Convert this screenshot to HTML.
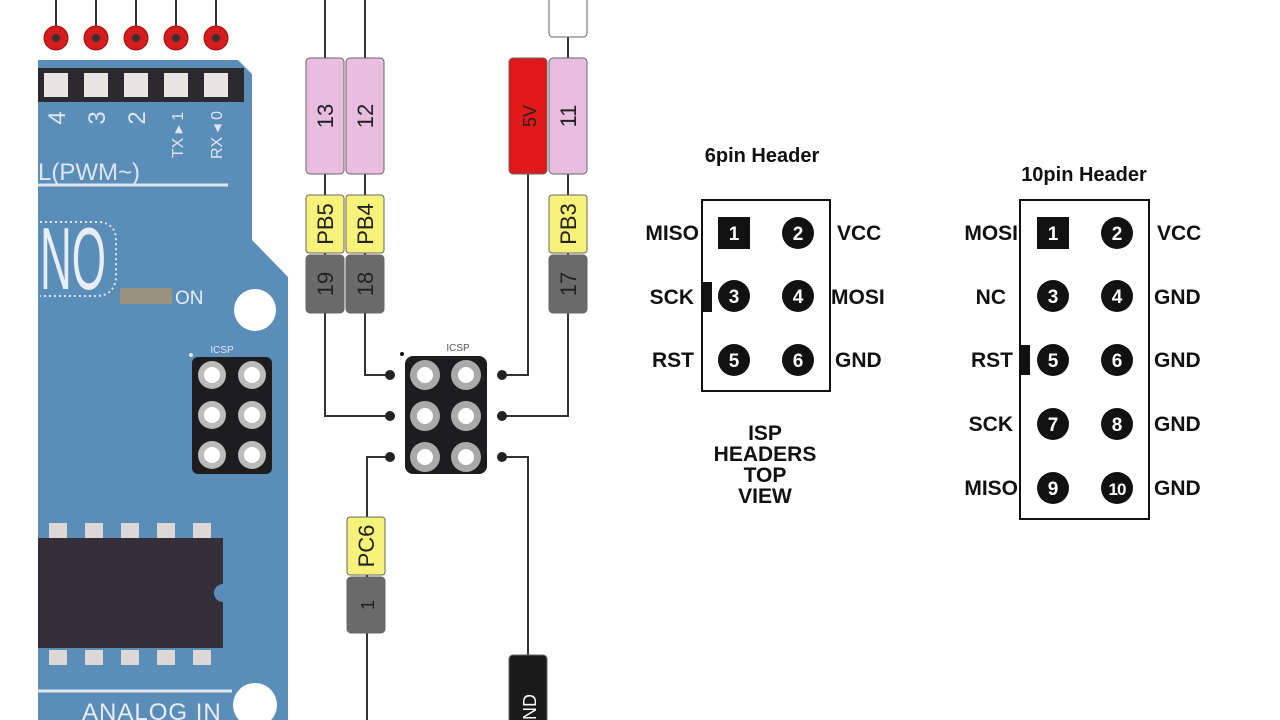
<!DOCTYPE html>
<html><head><meta charset="utf-8"><style>
html,body{margin:0;padding:0;background:#fff;}
svg{display:block;}
text{font-family:"Liberation Sans","DejaVu Sans",sans-serif;}
</style></head><body>
<svg width="1280" height="720" viewBox="0 0 1280 720" xmlns="http://www.w3.org/2000/svg">
<rect width="1280" height="720" fill="#fff"/>
<g stroke="#333" stroke-width="2">
<line x1="56" y1="0" x2="56" y2="38"/><line x1="96" y1="0" x2="96" y2="38"/><line x1="136" y1="0" x2="136" y2="38"/><line x1="176" y1="0" x2="176" y2="38"/><line x1="216" y1="0" x2="216" y2="38"/>
</g>
<g fill="#d41c1c" stroke="#a01010" stroke-width="1">
<circle cx="56" cy="38" r="12"/><circle cx="96" cy="38" r="12"/><circle cx="136" cy="38" r="12"/><circle cx="176" cy="38" r="12"/><circle cx="216" cy="38" r="12"/>
</g>
<g fill="#333"><circle cx="56" cy="38" r="4"/><circle cx="96" cy="38" r="4"/><circle cx="136" cy="38" r="4"/><circle cx="176" cy="38" r="4"/><circle cx="216" cy="38" r="4"/></g>
<path d="M38 60 L238 60 L252 74 L252 240 L288 277 L288 720 L38 720 Z" fill="#5b8db9"/>
<rect x="38" y="68" width="206" height="34" fill="#2a2a2e"/>
<g fill="#e8e4e4"><rect x="44" y="73" width="24" height="24"/><rect x="84" y="73" width="24" height="24"/><rect x="124" y="73" width="24" height="24"/><rect x="164" y="73" width="24" height="24"/><rect x="204" y="73" width="24" height="24"/></g>
<g fill="#dfe6f0" font-size="24">
<text transform="translate(65,118) rotate(-90)" text-anchor="middle">4</text>
<text transform="translate(105,118) rotate(-90)" text-anchor="middle">3</text>
<text transform="translate(145,118) rotate(-90)" text-anchor="middle">2</text>
<text transform="translate(183,135) rotate(-90)" text-anchor="middle" font-size="16">TX ▸ 1</text>
<text transform="translate(222,135) rotate(-90)" text-anchor="middle" font-size="16">RX ◂ 0</text>
<text x="38" y="180" font-size="24">L(PWM~)</text>
</g>
<line x1="38" y1="185" x2="228" y2="185" stroke="#dfe6f0" stroke-width="3"/>
<path d="M40 222 L100 222 Q116 224 116 240 L116 278 Q114 296 96 296 L40 296" fill="none" stroke="#dfe6f0" stroke-width="2" stroke-dasharray="2 3"/>
<text x="40" y="289" font-size="88" fill="#e8eef5" textLength="66" lengthAdjust="spacingAndGlyphs">NO</text>
<rect x="120" y="288" width="52" height="16" fill="#9a917f"/>
<text x="175" y="304" font-size="19" fill="#e8eef5">ON</text>
<circle cx="255" cy="310" r="21" fill="#fff"/>
<text x="222" y="353" font-size="10" fill="#dfe6f0" text-anchor="middle" font-family="Liberation Serif">ICSP</text>
<circle cx="191" cy="355" r="2" fill="#dfe6f0"/>
<rect x="192" y="357" width="80" height="117" rx="6" fill="#1d1d1f"/>
<g fill="#bbb"><circle cx="212" cy="375" r="14"/><circle cx="252" cy="375" r="14"/><circle cx="212" cy="415" r="14"/><circle cx="252" cy="415" r="14"/><circle cx="212" cy="455" r="14"/><circle cx="252" cy="455" r="14"/></g>
<g fill="#fff"><circle cx="212" cy="375" r="8"/><circle cx="252" cy="375" r="8"/><circle cx="212" cy="415" r="8"/><circle cx="252" cy="415" r="8"/><circle cx="212" cy="455" r="8"/><circle cx="252" cy="455" r="8"/></g>
<g fill="#ddd8d6"><rect x="49" y="523" width="18" height="15"/><rect x="85" y="523" width="18" height="15"/><rect x="121" y="523" width="18" height="15"/><rect x="157" y="523" width="18" height="15"/><rect x="193" y="523" width="18" height="15"/>
<rect x="49" y="650" width="18" height="15"/><rect x="85" y="650" width="18" height="15"/><rect x="121" y="650" width="18" height="15"/><rect x="157" y="650" width="18" height="15"/><rect x="193" y="650" width="18" height="15"/></g>
<rect x="38" y="538" width="185" height="110" fill="#332e38"/>
<circle cx="223" cy="593" r="9" fill="#5b8db9"/>
<line x1="38" y1="691" x2="232" y2="691" stroke="#dfe6f0" stroke-width="3"/>
<text x="82" y="720" font-size="24" fill="#e8eef5" letter-spacing="1">ANALOG IN</text>
<circle cx="255" cy="705" r="22" fill="#fff"/>
<g stroke="#333" stroke-width="2" fill="none">
<path d="M325 0 V416 H390"/><path d="M365 0 V375 H390"/>
<path d="M528 170 V375 H502"/><path d="M568 30 V416 H502"/>
<path d="M390 457 H367 V720"/><path d="M502 457 H528 V660"/>
</g>
<g stroke="#666" stroke-width="1">
<rect x="306" y="58" width="38" height="116" rx="4" fill="#e9bde0"/>
<rect x="346" y="58" width="38" height="116" rx="4" fill="#e9bde0"/>
<rect x="509" y="58" width="38" height="116" rx="4" fill="#e11818"/>
<rect x="549" y="58" width="38" height="116" rx="4" fill="#e9bde0"/>
<rect x="549" y="-5" width="38" height="42" rx="4" fill="#fff"/>
<rect x="306" y="195" width="38" height="58" rx="3" fill="#f7f27a"/>
<rect x="346" y="195" width="38" height="58" rx="3" fill="#f7f27a"/>
<rect x="549" y="195" width="38" height="58" rx="3" fill="#f7f27a"/>
<rect x="306" y="255" width="38" height="58" rx="4" fill="#6a6a6a"/>
<rect x="346" y="255" width="38" height="58" rx="4" fill="#6a6a6a"/>
<rect x="549" y="255" width="38" height="58" rx="4" fill="#6a6a6a"/>
<rect x="347" y="517" width="38" height="58" rx="3" fill="#f7f27a"/>
<rect x="347" y="577" width="38" height="56" rx="4" fill="#6a6a6a"/>
<rect x="509" y="655" width="38" height="70" rx="4" fill="#1a1a1a"/>
</g>
<g font-size="22" fill="#222">
<text transform="translate(333,116) rotate(-90)" text-anchor="middle">13</text>
<text transform="translate(373,116) rotate(-90)" text-anchor="middle">12</text>
<text transform="translate(536,116) rotate(-90)" text-anchor="middle" font-size="18">5V</text>
<text transform="translate(576,116) rotate(-90)" text-anchor="middle">11</text>
<text transform="translate(333,224) rotate(-90)" text-anchor="middle">PB5</text>
<text transform="translate(373,224) rotate(-90)" text-anchor="middle">PB4</text>
<text transform="translate(576,224) rotate(-90)" text-anchor="middle">PB3</text>
<text transform="translate(333,284) rotate(-90)" text-anchor="middle">19</text>
<text transform="translate(373,284) rotate(-90)" text-anchor="middle">18</text>
<text transform="translate(576,284) rotate(-90)" text-anchor="middle">17</text>
<text transform="translate(374,546) rotate(-90)" text-anchor="middle">PC6</text>
<text transform="translate(374,605) rotate(-90)" text-anchor="middle" font-size="18">1</text>
<text transform="translate(536,734) rotate(-90)" text-anchor="start" font-size="18" fill="#fff">GND</text>
</g>
<text x="458" y="351" font-size="10" fill="#555" text-anchor="middle" font-family="Liberation Serif">ICSP</text>
<circle cx="402" cy="354" r="2" fill="#111"/>
<rect x="405" y="356" width="82" height="118" rx="8" fill="#1d1d1f"/>
<g fill="#aaa"><circle cx="425" cy="375" r="15"/><circle cx="466" cy="375" r="15"/><circle cx="425" cy="416" r="15"/><circle cx="466" cy="416" r="15"/><circle cx="425" cy="457" r="15"/><circle cx="466" cy="457" r="15"/></g>
<g fill="#fff"><circle cx="425" cy="375" r="8"/><circle cx="466" cy="375" r="8"/><circle cx="425" cy="416" r="8"/><circle cx="466" cy="416" r="8"/><circle cx="425" cy="457" r="8"/><circle cx="466" cy="457" r="8"/></g>
<g fill="#222"><circle cx="390" cy="375" r="5"/><circle cx="390" cy="416" r="5"/><circle cx="390" cy="457" r="5"/><circle cx="502" cy="375" r="5"/><circle cx="502" cy="416" r="5"/><circle cx="502" cy="457" r="5"/></g>

<text x="762" y="162" font-size="20" font-weight="bold" text-anchor="middle" fill="#111">6pin Header</text>
<rect x="702" y="200" width="128" height="191" fill="#fff" stroke="#111" stroke-width="2"/>
<rect x="702" y="282" width="10" height="30" fill="#111"/>
<rect x="718" y="217" width="32" height="32" fill="#111"/>
<g fill="#111"><circle cx="798" cy="233" r="16"/><circle cx="734" cy="296" r="16"/><circle cx="798" cy="296" r="16"/><circle cx="734" cy="360" r="16"/><circle cx="798" cy="360" r="16"/></g>
<g fill="#fff" font-size="19" font-weight="bold" text-anchor="middle">
<text x="734" y="240">1</text><text x="798" y="240">2</text><text x="734" y="303">3</text><text x="798" y="303">4</text><text x="734" y="367">5</text><text x="798" y="367">6</text>
</g>
<g font-size="21" font-weight="bold" fill="#111">
<text x="699" y="240" text-anchor="end">MISO</text><text x="694" y="304" text-anchor="end">SCK</text><text x="694" y="367" text-anchor="end">RST</text>
<text x="837" y="240">VCC</text><text x="831" y="304">MOSI</text><text x="835" y="367">GND</text>
</g>
<g font-size="21" font-weight="bold" fill="#111" text-anchor="middle">
<text x="765" y="440">ISP</text><text x="765" y="461">HEADERS</text><text x="765" y="482">TOP</text><text x="765" y="503">VIEW</text>
</g>

<text x="1084" y="181" font-size="20" font-weight="bold" text-anchor="middle" fill="#111">10pin Header</text>
<rect x="1020" y="200" width="129" height="319" fill="#fff" stroke="#111" stroke-width="2"/>
<rect x="1020" y="345" width="10" height="30" fill="#111"/>
<rect x="1037" y="217" width="32" height="32" fill="#111"/>
<g fill="#111"><circle cx="1117" cy="233" r="16"/><circle cx="1053" cy="296" r="16"/><circle cx="1117" cy="296" r="16"/><circle cx="1053" cy="360" r="16"/><circle cx="1117" cy="360" r="16"/><circle cx="1053" cy="424" r="16"/><circle cx="1117" cy="424" r="16"/><circle cx="1053" cy="488" r="16"/><circle cx="1117" cy="488" r="16"/></g>
<g fill="#fff" font-size="19" font-weight="bold" text-anchor="middle">
<text x="1053" y="240">1</text><text x="1117" y="240">2</text><text x="1053" y="303">3</text><text x="1117" y="303">4</text><text x="1053" y="367">5</text><text x="1117" y="367">6</text><text x="1053" y="431">7</text><text x="1117" y="431">8</text><text x="1053" y="495">9</text><text x="1117" y="495" font-size="17" letter-spacing="-1">10</text>
</g>
<g font-size="21" font-weight="bold" fill="#111">
<text x="1018" y="240" text-anchor="end">MOSI</text><text x="1006" y="304" text-anchor="end">NC</text><text x="1013" y="367" text-anchor="end">RST</text><text x="1013" y="431" text-anchor="end">SCK</text><text x="1018" y="495" text-anchor="end">MISO</text>
<text x="1157" y="240">VCC</text><text x="1154" y="304">GND</text><text x="1154" y="367">GND</text><text x="1154" y="431">GND</text><text x="1154" y="495">GND</text>
</g>
</svg>
</body></html>
